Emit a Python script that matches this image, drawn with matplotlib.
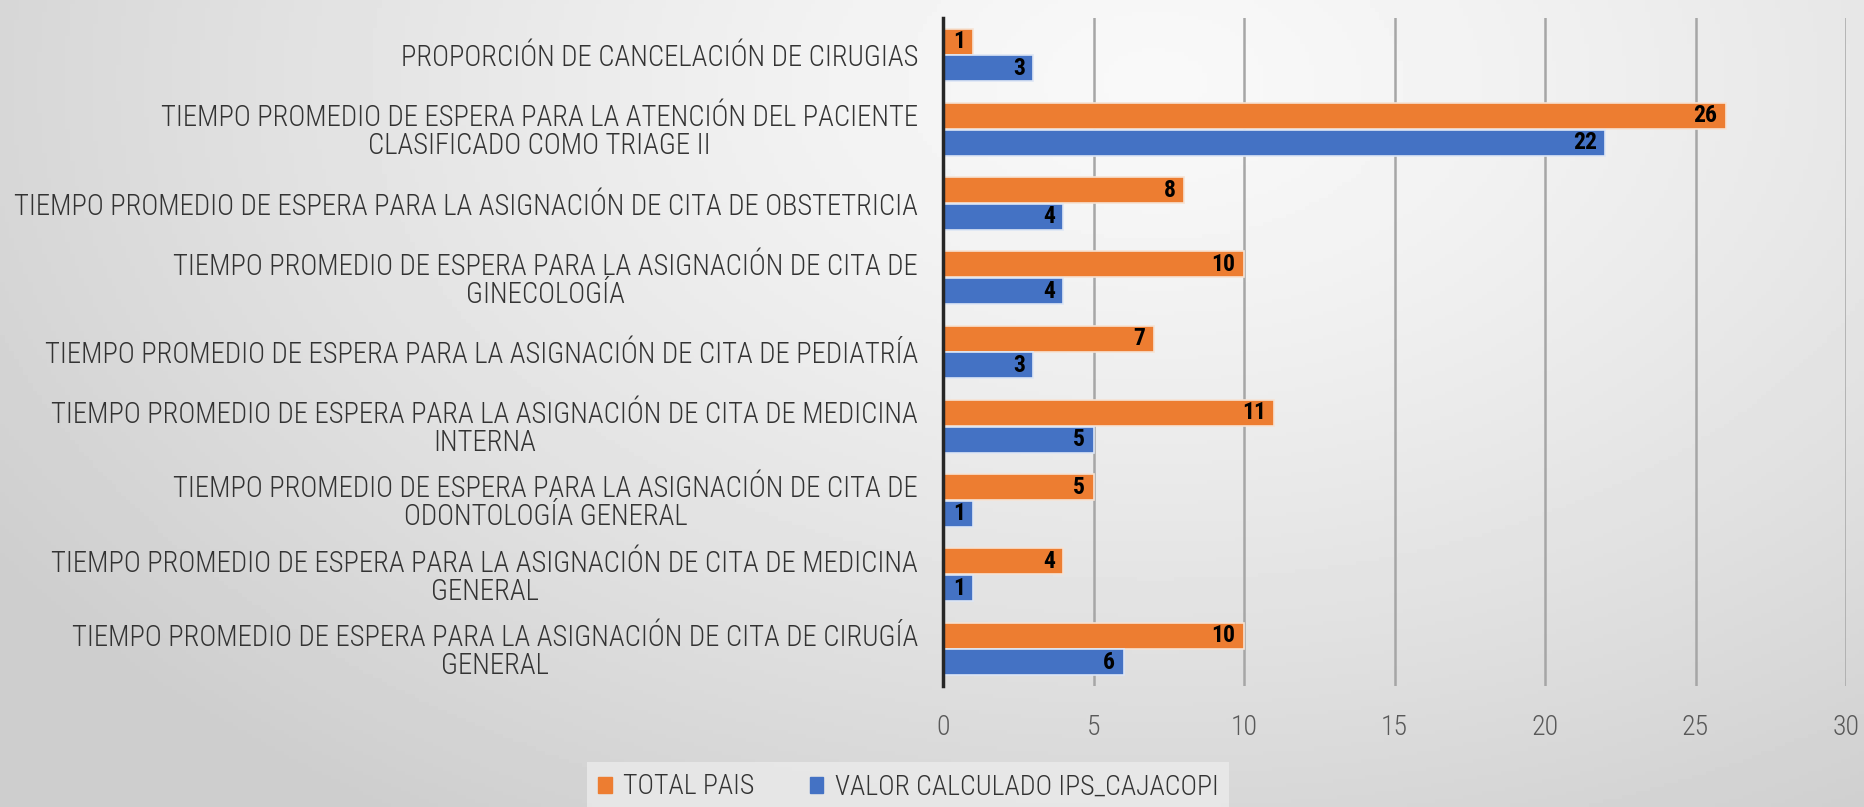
import numpy as np
import matplotlib
matplotlib.use("Agg")
import matplotlib.pyplot as plt
from matplotlib.patches import Patch

categorias = [
    "PROPORCIÓN DE CANCELACIÓN DE CIRUGIAS",
    "TIEMPO PROMEDIO DE ESPERA PARA LA ATENCIÓN DEL PACIENTE\nCLASIFICADO COMO TRIAGE II",
    "TIEMPO PROMEDIO DE ESPERA PARA LA ASIGNACIÓN DE CITA DE OBSTETRICIA",
    "TIEMPO PROMEDIO DE ESPERA PARA LA ASIGNACIÓN DE CITA DE\nGINECOLOGÍA",
    "TIEMPO PROMEDIO DE ESPERA PARA LA ASIGNACIÓN DE CITA DE PEDIATRÍA",
    "TIEMPO PROMEDIO DE ESPERA PARA LA ASIGNACIÓN DE CITA DE MEDICINA\nINTERNA",
    "TIEMPO PROMEDIO DE ESPERA PARA LA ASIGNACIÓN DE CITA DE\nODONTOLOGÍA GENERAL",
    "TIEMPO PROMEDIO DE ESPERA PARA LA ASIGNACIÓN DE CITA DE MEDICINA\nGENERAL",
    "TIEMPO PROMEDIO DE ESPERA PARA LA ASIGNACIÓN DE CITA DE CIRUGÍA\nGENERAL",
]
total_pais = [1, 26, 8, 10, 7, 11, 5, 4, 10]
valor_ips = [3, 22, 4, 4, 3, 5, 1, 1, 6]
ticks_x = [0, 5, 10, 15, 20, 25, 30]

fuente = ["Roboto Condensed", "DejaVu Sans"]
naranja = "#ED7D31"
azul = "#4472C4"

fig = plt.figure(figsize=(18.64, 8.07), dpi=100)

# fondo con degradado radial gris
fondo = fig.add_axes([0, 0, 1, 1], zorder=-10)
xx, yy = np.meshgrid(np.linspace(0, 1, 400), np.linspace(0, 1, 200))
d = np.sqrt(((xx - 0.62) / 0.75) ** 2 + ((yy - 0.9) / 1.1) ** 2)
val = 0.975 - 0.17 * np.clip(d, 0, 1) ** 1.3
fondo.imshow(val, cmap="gray", vmin=0, vmax=1, extent=[0, 1, 0, 1],
             origin="lower", aspect="auto")
fondo.axis("off")

ax = fig.add_axes([943 / 1864, 1 - 686 / 807, (1846 - 943) / 1864, (686 - 18) / 807])
ax.set_facecolor("none")

y = np.arange(len(categorias))
h = 0.35
b1 = ax.barh(y - 0.18, total_pais, height=h, color=naranja,
             edgecolor="#f6e3d4", linewidth=1.2, zorder=3)
b2 = ax.barh(y + 0.18, valor_ips, height=h, color=azul,
             edgecolor="#dde6f5", linewidth=1.2, zorder=3)

for barras, vals in [(b1, total_pais), (b2, valor_ips)]:
    for bar, v in zip(barras, vals):
        ax.annotate(str(v), (bar.get_width(), bar.get_y() + bar.get_height() / 2),
                    xytext=(-6, 0), textcoords="offset points", ha="right", va="center",
                    fontsize=17, fontweight="bold", color="black", family=fuente, zorder=4)

ax.set_xlim(0, 30)
ax.set_ylim(len(categorias) - 0.5, -0.5)
ax.set_xticks(ticks_x)
ax.set_yticks(y)
ax.set_yticklabels(categorias, family=fuente, fontsize=20.6, fontweight="light",
                   color="#333333", ha="right", multialignment="center",
                   linespacing=1.0)
for lab in ax.get_xticklabels():
    lab.set_family(fuente)
    lab.set_fontsize(20)
    lab.set_fontweight("light")
    lab.set_color("#595959")
ax.tick_params(axis="both", length=0)
ax.tick_params(axis="y", pad=18)
ax.tick_params(axis="x", pad=20)

ax.grid(axis="x", color="#a6a6a6", linewidth=1.8, zorder=0)
ax.set_axisbelow(True)
for s in ["top", "right", "bottom"]:
    ax.spines[s].set_visible(False)
ax.spines["left"].set_color("#262626")
ax.spines["left"].set_linewidth(2.5)
ax.spines["left"].set_zorder(5)

handles = [Patch(color=naranja), Patch(color=azul)]
leg = fig.legend(handles, ["TOTAL PAIS", "VALOR CALCULADO IPS_CAJACOPI"],
                 loc="center", bbox_to_anchor=(908 / 1864, 1 - 787 / 807), ncol=2,
                 frameon=True, fancybox=False, handlelength=0.5, handleheight=0.5,
                 handletextpad=0.4, columnspacing=2.0,
                 prop={"family": fuente, "size": 20, "weight": "light"})
leg.get_frame().set_facecolor("#ebebeb")
leg.get_frame().set_edgecolor("none")
for t in leg.get_texts():
    t.set_color("#333333")

fig.savefig("out.png", dpi=100)
